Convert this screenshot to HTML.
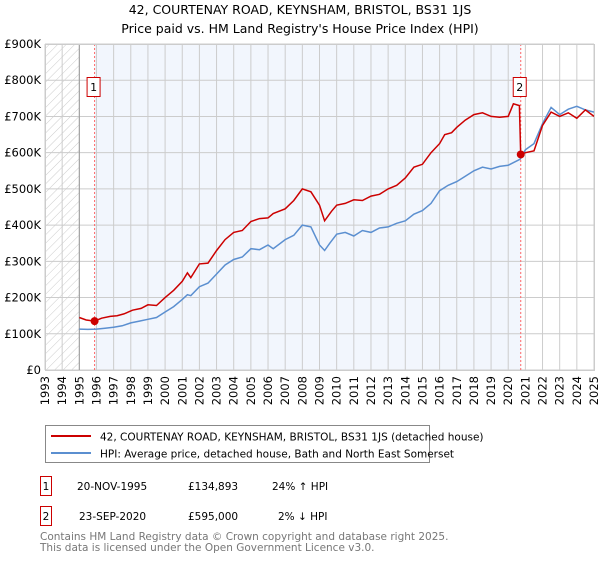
<!DOCTYPE html>
<html><head><meta charset="utf-8">
<style>
body{margin:0;background:#fff;font-family:"Liberation Sans","DejaVu Sans",sans-serif;}
svg text{font-family:"DejaVu Sans","Liberation Sans",sans-serif;}
</style></head>
<body>
<svg id="chart" width="600" height="560" viewBox="0 0 600 560" xmlns="http://www.w3.org/2000/svg">
<defs>
<pattern id="hatch" width="6" height="6" patternUnits="userSpaceOnUse" patternTransform="rotate(45)">
<line x1="0" y1="0" x2="0" y2="6" stroke="#ccc" stroke-width="1"/>
</pattern>
</defs>
<text x="300" y="14" font-size="12.5" text-anchor="middle">42, COURTENAY ROAD, KEYNSHAM, BRISTOL, BS31 1JS</text>
<text x="300" y="33" font-size="12.5" text-anchor="middle">Price paid vs. HM Land Registry's House Price Index (HPI)</text>
<g id="plot"></g>
<g>
<rect x="45.5" y="425.5" width="384" height="37" fill="#fff" stroke="#888"/>
<line x1="51" y1="436" x2="91" y2="436" stroke="#cc0000" stroke-width="2"/>
<text x="100" y="440.5" font-size="10.5">42, COURTENAY ROAD, KEYNSHAM, BRISTOL, BS31 1JS (detached house)</text>
<line x1="51" y1="453" x2="91" y2="453" stroke="#5b8fd0" stroke-width="2"/>
<text x="100" y="457.5" font-size="10.5">HPI: Average price, detached house, Bath and North East Somerset</text>
</g>
<g font-size="10.5">
<rect x="40.5" y="476.5" width="11" height="19" fill="#fff" stroke="#cc0000"/>
<text x="46" y="490" text-anchor="middle">1</text>
<text x="77" y="490">20-NOV-1995</text>
<text x="188" y="490">£134,893</text>
<text x="272" y="490">24% ↑ HPI</text>
<rect x="40.5" y="506.5" width="11" height="19" fill="#fff" stroke="#cc0000"/>
<text x="46" y="520" text-anchor="middle">2</text>
<text x="79" y="520">23-SEP-2020</text>
<text x="188" y="520">£595,000</text>
<text x="278" y="520">2% ↓ HPI</text>
</g>
<text x="40" y="121" font-size="10.5" fill="#777"><tspan x="40" y="540">Contains HM Land Registry data © Crown copyright and database right 2025.</tspan><tspan x="40" y="551">This data is licensed under the Open Government Licence v3.0.</tspan></text>
</svg>
<script>
const years=[1993,1994,1995,1996,1997,1998,1999,2000,2001,2002,2003,2004,2005,2006,2007,2008,2009,2010,2011,2012,2013,2014,2015,2016,2017,2018,2019,2020,2021,2022,2023,2024,2025];
const yTicks=[0,100000,200000,300000,400000,500000,600000,700000,800000,900000];
const yTickLabels=["£0","£100K","£200K","£300K","£400K","£500K","£600K","£700K","£800K","£900K"];
const hpiT=[1995,1995.5,1996,1996.5,1997,1997.5,1998,1998.5,1999,1999.5,2000,2000.5,2001,2001.3,2001.5,2002,2002.5,2003,2003.5,2004,2004.5,2005,2005.5,2006,2006.3,2007,2007.5,2008,2008.5,2009,2009.3,2009.6,2010,2010.5,2011,2011.5,2012,2012.5,2013,2013.5,2014,2014.5,2015,2015.5,2016,2016.5,2017,2017.5,2018,2018.5,2019,2019.5,2020,2020.7,2021,2021.5,2022,2022.5,2023,2023.5,2024,2024.5,2025];
const hpiV=[113000,112000,113000,115000,118000,122000,130000,135000,140000,145000,160000,175000,195000,208000,205000,230000,240000,265000,290000,305000,312000,335000,332000,345000,335000,360000,372000,400000,395000,345000,330000,350000,375000,380000,370000,385000,380000,392000,395000,405000,412000,430000,440000,460000,495000,510000,520000,535000,550000,560000,555000,562000,565000,582000,608000,625000,680000,725000,705000,720000,728000,718000,712000];
const propT=[1995,1995.4,1995.89,1996.3,1996.8,1997.2,1997.6,1998.1,1998.6,1999,1999.5,2000,2000.5,2001,2001.3,2001.5,2002,2002.5,2003,2003.5,2004,2004.5,2005,2005.5,2006,2006.3,2007,2007.5,2008,2008.5,2009,2009.3,2009.7,2010,2010.5,2011,2011.5,2012,2012.5,2013,2013.5,2014,2014.5,2015,2015.5,2016,2016.3,2016.7,2017,2017.5,2018,2018.5,2019,2019.5,2020,2020.3,2020.65,2020.73,2021,2021.5,2022,2022.5,2023,2023.5,2024,2024.5,2025];
const propV=[145000,138000,134893,143000,148000,150000,155000,165000,170000,180000,178000,200000,220000,245000,268000,255000,293000,295000,330000,360000,380000,385000,410000,418000,420000,432000,445000,468000,500000,492000,455000,412000,438000,455000,460000,470000,468000,480000,485000,500000,510000,530000,560000,568000,600000,625000,650000,655000,670000,690000,705000,710000,700000,698000,700000,735000,730000,595000,600000,605000,675000,712000,700000,710000,695000,718000,700000];
const sales=[{t:1995.89,v:134893,label:"1"},{t:2020.73,v:595000,label:"2"}];

const X0=45,X1=594,Y0=370,Y1=44;
const x=t=>X0+(t-1993)/(2025-1993)*(X1-X0);
const y=v=>Y0-v/900000*(Y0-Y1);
const NS="http://www.w3.org/2000/svg";
const plot=document.getElementById('plot');
function mk(tag,attrs,parent){const e=document.createElementNS(NS,tag);for(const k in attrs)e.setAttribute(k,attrs[k]);(parent||plot).appendChild(e);return e;}

let r=mk('rect',{x:x(1993),y:Y1,width:x(1995)-x(1993),height:Y0-Y1,fill:'url(#hatch)'});


r=mk('rect',{x:x(sales[0].t),y:Y1,width:x(sales[1].t)-x(sales[0].t),height:Y0-Y1,fill:'#f2f6fd'});



years.forEach(yr=>{
  const l=mk('line',{x1:x(yr),x2:x(yr),y1:Y1,y2:Y0,stroke:'#ccc','stroke-width':1});
  
  
  const t=mk('text',{x:0,y:0,'font-size':11.5,'text-anchor':'end',transform:`translate(${x(yr)+4},${Y0+6}) rotate(-90)`});
  t.textContent=yr;
  
  
});
yTicks.forEach((v,i)=>{
  const l=mk('line',{x1:X0,x2:X1,y1:y(v),y2:y(v),stroke:'#ccc','stroke-width':1});
  
  
  const t=mk('text',{x:X0-4,y:y(v)+4,'font-size':11.5,'text-anchor':'end'});
  t.textContent=yTickLabels[i];
  
  
});
let ax=mk('line',{x1:x(1995),x2:x(1995),y1:Y1,y2:Y0,stroke:'#999','stroke-width':1});


sales.forEach(s=>{
  const l=mk('line',{x1:x(s.t),x2:x(s.t),y1:Y1,y2:Y0,stroke:'#ff6666','stroke-width':1,'stroke-dasharray':'2,2'});
  
  
});
const pathOf=(T,V)=>T.map((t,i)=>(i?'L':'M')+x(t).toFixed(1)+','+y(V[i]).toFixed(1)).join('');
let p=mk('path',{d:pathOf(hpiT,hpiV),fill:'none',stroke:'#5b8fd0','stroke-width':1.5});


p=mk('path',{d:pathOf(propT,propV),fill:'none',stroke:'#cc0000','stroke-width':1.5});


sales.forEach(s=>{
  const c=mk('circle',{cx:x(s.t),cy:y(s.v),r:4,fill:'#cc0000'});
  
  
  const b=mk('rect',{x:x(s.t)-7.5,y:77.5,width:13,height:19,fill:'#fff',stroke:'#cc0000'});
  
  
  const t=mk('text',{x:x(s.t)-1,y:91,'font-size':11,'text-anchor':'middle'});
  t.textContent=s.label;
  
  
});
let fr=mk('rect',{x:X0+0.5,y:Y1+0.5,width:X1-X0,height:Y0-Y1,fill:'none',stroke:'#ccc'});


</script>
</body></html>
